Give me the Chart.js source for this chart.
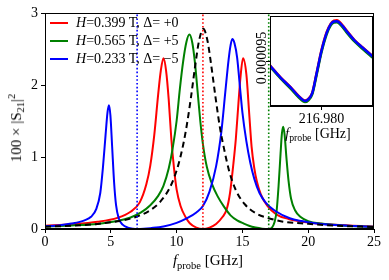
<!DOCTYPE html>
<html><head><meta charset="utf-8">
<script src="https://cdn.jsdelivr.net/npm/chart.js@4.4.0/dist/chart.umd.min.js"></script>
<style>
html,body{margin:0;padding:0;background:#fff;}
#wrap{position:relative;width:389px;height:280px;overflow:hidden;}
canvas{position:absolute;}
.t{position:absolute;font-family:"Liberation Serif","Times New Roman",serif;color:#000;white-space:nowrap;line-height:1;}
.sub{font-size:70%;vertical-align:-0.35em;}
.sup{font-size:70%;vertical-align:0.55em;}
.ln{position:absolute;height:2px;}
</style></head><body>
<div id="wrap">
<canvas id="main" width="389" height="280" style="left:0;top:0;width:389px;height:280px"></canvas>
<canvas id="inset" width="130" height="130" style="left:250px;top:5px;width:130px;height:130px"></canvas>

<div class="ln" style="left:50px;top:22px;width:18px;background:#ff0000"></div>
<div class="ln" style="left:50px;top:40px;width:18px;background:#008000"></div>
<div class="ln" style="left:50px;top:58px;width:18px;background:#0000ff"></div>
<div class="t" style="left:76px;top:16px;font-size:14px"><i>H</i>=0.399 T, Δ= +0</div>
<div class="t" style="left:76px;top:34px;font-size:14px"><i>H</i>=0.565 T, Δ= +5</div>
<div class="t" style="left:76px;top:52px;font-size:14px"><i>H</i>=0.233 T, Δ= −5</div>

<div class="t" style="left:17px;top:128px;font-size:15px;transform:translate(-50%,-50%) rotate(-90deg)">100 × |S<span class="sub">21</span>|<span class="sup">2</span></div>
<div class="t" style="left:208px;top:262px;font-size:15px;transform:translate(-50%,-50%)"><i>f</i><span class="sub">probe</span> [GHz]</div>

<div class="t" style="left:262px;top:58px;font-size:14px;transform:translate(-50%,-50%) rotate(-90deg)">0.000095</div>
<div class="t" style="left:318px;top:135px;font-size:14px;transform:translate(-50%,-50%)"><i>f</i><span class="sub">probe</span> [GHz]</div>
</div>
<script>
// ---------- main panel data ----------
const freqRed = [0, 2, 4, 5.5, 6.5, 7.2, 7.7, 8.0, 8.3, 8.6, 8.8, 9.0, 9.2, 9.4, 9.6, 9.8, 10.0, 10.3, 10.7, 11.0, 11.5, 12.0, 12.5, 13.0, 13.5, 13.8, 14.06, 14.3, 14.5, 14.7, 14.85, 15.05, 15.3, 15.5, 15.7, 15.9, 16.1, 16.4, 16.9, 17.6, 18.5, 20, 22, 25];
const valRed  = [0.045, 0.065, 0.10, 0.155, 0.24, 0.37, 0.62, 0.88, 1.30, 1.87, 2.20, 2.37, 2.20, 1.80, 1.25, 0.85, 0.55, 0.32, 0.16, 0.08, 0.02, 0.0, 0.02, 0.07, 0.17, 0.27, 0.50, 0.88, 1.25, 1.75, 2.10, 2.37, 2.15, 1.65, 1.14, 0.85, 0.66, 0.48, 0.32, 0.20, 0.14, 0.09, 0.06, 0.035];

const freqGreen = [0, 2, 4, 5.5, 6.5, 7.3, 8.0, 8.6, 9.0, 9.4, 9.7, 10.0, 10.25, 10.5, 10.75, 10.97, 11.2, 11.4, 11.6, 11.8, 12.0, 12.3, 12.7, 13.1, 13.6, 14.1, 14.6, 15.0, 15.5, 16.0, 16.5, 17.0, 17.25, 17.45, 17.6, 17.75, 17.9, 18.0, 18.1, 18.2, 18.35, 18.5, 18.7, 19.0, 19.4, 20.0, 21.0, 22.5, 25];
const valGreen  = [0.035, 0.05, 0.07, 0.11, 0.16, 0.23, 0.33, 0.46, 0.60, 0.84, 1.12, 1.50, 1.95, 2.33, 2.60, 2.70, 2.58, 2.30, 1.90, 1.50, 1.18, 0.86, 0.62, 0.46, 0.31, 0.19, 0.12, 0.085, 0.045, 0.02, 0.005, 0.0, 0.02, 0.10, 0.25, 0.60, 1.05, 1.32, 1.42, 1.32, 0.98, 0.68, 0.42, 0.26, 0.17, 0.11, 0.075, 0.05, 0.03];

const freqBlue = [0, 1, 2, 3, 3.5, 3.9, 4.2, 4.4, 4.6, 4.75, 4.86, 4.97, 5.1, 5.25, 5.4, 5.6, 5.9, 6.3, 6.7, 7.0, 7.5, 8.0, 9.0, 10.0, 10.8, 11.5, 12.0, 12.5, 13.0, 13.4, 13.7, 13.95, 14.1, 14.23, 14.4, 14.6, 14.8, 15.0, 15.3, 15.6, 15.9, 16.3, 16.8, 17.5, 18.6, 19.5, 20.5, 22, 25];
const valBlue  = [0.04, 0.05, 0.075, 0.12, 0.17, 0.28, 0.50, 0.85, 1.30, 1.62, 1.72, 1.58, 1.15, 0.65, 0.33, 0.15, 0.06, 0.02, 0.004, 0.0, 0.004, 0.012, 0.035, 0.085, 0.15, 0.23, 0.32, 0.52, 0.87, 1.35, 1.90, 2.35, 2.55, 2.64, 2.58, 2.38, 2.00, 1.62, 1.22, 0.92, 0.70, 0.50, 0.36, 0.25, 0.15, 0.11, 0.08, 0.055, 0.03];

const freqBare = [0, 2, 4, 6, 7, 8, 8.75, 9.5, 10.1, 10.5, 10.8, 11.1, 11.4, 11.7, 12.03, 12.35, 12.65, 12.95, 13.3, 13.6, 14.0, 14.5, 15.2, 16.1, 17.0, 18.0, 20.0, 22.0, 25.0];
const valBare  = [0.032, 0.046, 0.071, 0.123, 0.174, 0.262, 0.378, 0.58, 0.87, 1.17, 1.47, 1.84, 2.25, 2.61, 2.78, 2.61, 2.25, 1.84, 1.40, 1.12, 0.80, 0.54, 0.34, 0.21, 0.15, 0.105, 0.072, 0.047, 0.028];

const markerFreqs = [7, 12, 17];
const markerColors = ['#0000ff', '#ff0000', '#008000'];
const xTicks = [0, 5, 10, 15, 20, 25];
const yTicks = [0, 1, 2, 3];

// ---------- inset data ----------
const insetFreq  = [216.9750, 216.9760, 216.9770, 216.9778, 216.9782, 216.9784, 216.9787, 216.9791, 216.9795, 216.9800, 216.9805, 216.9809, 216.9812, 216.9815, 216.9820, 216.9825, 216.9832, 216.9840, 216.9850];
const insetBlue  = [0.00009485, 0.00009446, 0.00009412, 0.00009382, 0.00009370, 0.00009367, 0.00009372, 0.00009393, 0.00009455, 0.00009535, 0.00009595, 0.00009624, 0.00009633, 0.00009634, 0.00009620, 0.00009598, 0.00009570, 0.00009545, 0.00009515];
const insetGreen = [0.00009482, 0.00009443, 0.00009408, 0.00009378, 0.00009366, 0.00009363, 0.00009368, 0.00009389, 0.00009450, 0.00009530, 0.00009590, 0.00009620, 0.00009629, 0.00009630, 0.00009616, 0.00009594, 0.00009566, 0.00009541, 0.00009511];
const insetRed   = [0.00009486, 0.00009447, 0.00009413, 0.00009383, 0.00009371, 0.00009368, 0.00009373, 0.00009394, 0.00009456, 0.00009537, 0.00009597, 0.00009626, 0.00009636, 0.00009637, 0.00009622, 0.00009600, 0.00009571, 0.00009546, 0.00009516];
const insetXTick = [216.980];
const insetYTick = [0.000095];

const xy = (xs, ys) => xs.map((x, i) => ({x: x, y: ys[i]}));
const FONT = {family: '"Liberation Serif","Times New Roman",serif', size: 14};

const framePlugin = {
  id: 'frame',
  afterDatasetsDraw(chart) {
    const a = chart.chartArea, c = chart.ctx;
    c.save(); c.strokeStyle = '#000'; c.lineWidth = 1;
    c.strokeRect(Math.round(a.left) + 0.5, Math.round(a.top) + 0.5, Math.round(a.right - a.left) - 1, Math.round(a.bottom - a.top) - 1);
    c.restore();
  }
};

const curve = (data, color, order, dash) => ({
  data: data, borderColor: color, borderWidth: 2, pointRadius: 0, fill: false,
  cubicInterpolationMode: 'monotone', borderDash: dash || [], order: order
});

const markerSets = markerFreqs.map((f, i) => ({
  data: [{x: f, y: 0}, {x: f, y: 3}], borderColor: markerColors[i], borderWidth: 1.6,
  borderDash: [1.6, 2.2], pointRadius: 0, fill: false, order: 0
}));

new Chart(document.getElementById('main'), {
  type: 'line',
  data: {
    datasets: [
      curve(xy(freqRed, valRed), '#ff0000', 4),
      curve(xy(freqGreen, valGreen), '#008000', 3),
      curve(xy(freqBlue, valBlue), '#0000ff', 2),
      curve(xy(freqBare, valBare), '#000000', 1, [6, 4]),
      ...markerSets
    ]
  },
  options: {
    responsive: false, animation: false, devicePixelRatio: 1,
    layout: {padding: {top: 13, right: 15, left: 0, bottom: 0}},
    plugins: {legend: {display: false}, tooltip: {enabled: false}},
    scales: {
      x: {
        type: 'linear', min: 0, max: 25,
        afterBuildTicks: s => { s.ticks = xTicks.map(v => ({value: v})); },
        ticks: {font: FONT, color: '#000', padding: 1, maxRotation: 0, autoSkip: false},
        grid: {drawOnChartArea: false, tickLength: 4, color: '#000', lineWidth: 1},
        border: {color: '#000', width: 1},
        afterFit: s => { s.height = 51; }
      },
      y: {
        type: 'linear', min: 0, max: 3,
        afterBuildTicks: s => { s.ticks = yTicks.map(v => ({value: v})); },
        ticks: {font: FONT, color: '#000', padding: 3},
        grid: {drawOnChartArea: false, tickLength: 4, color: '#000', lineWidth: 1},
        border: {color: '#000', width: 1},
        afterFit: s => { s.width = 45; }
      }
    }
  },
  plugins: [framePlugin]
});

const insetCurve = (ys, color, order) => ({
  data: xy(insetFreq, ys), borderColor: color, borderWidth: 2.5, pointRadius: 0, fill: false,
  cubicInterpolationMode: 'monotone', order: order
});

new Chart(document.getElementById('inset'), {
  type: 'line',
  data: {datasets: [insetCurve(insetRed, '#ff0000', 3), insetCurve(insetGreen, '#008000', 2), insetCurve(insetBlue, '#0000ff', 1)]},
  options: {
    responsive: false, animation: false, devicePixelRatio: 1,
    layout: {padding: {top: 10, right: 7, left: 0, bottom: 0}},
    plugins: {legend: {display: false}, tooltip: {enabled: false}},
    scales: {
      x: {
        type: 'linear', min: 216.975, max: 216.985,
        afterBuildTicks: s => { s.ticks = insetXTick.map(v => ({value: v})); },
        ticks: {font: FONT, color: '#000', padding: 1, maxRotation: 0, autoSkip: false, callback: v => v.toFixed(3)},
        grid: {drawOnChartArea: false, tickLength: 4, color: '#000'},
        border: {color: '#000', width: 1},
        afterFit: s => { s.height = 29; }
      },
      y: {
        type: 'linear', min: 0.0000935, max: 0.0000965,
        afterBuildTicks: s => { s.ticks = insetYTick.map(v => ({value: v})); },
        ticks: {display: true, callback: () => '', font: FONT},
        grid: {drawOnChartArea: false, tickLength: 4, color: '#000'},
        border: {color: '#000', width: 1},
        afterFit: s => { s.width = 20; }
      }
    }
  },
  plugins: [{
    id: 'bg',
    beforeDatasetsDraw(chart) {
      const a = chart.chartArea, c = chart.ctx;
      c.save(); c.fillStyle = '#fff'; c.fillRect(a.left, a.top, a.right - a.left, a.bottom - a.top); c.restore();
    }
  }, framePlugin]
});
</script>
</body></html>
